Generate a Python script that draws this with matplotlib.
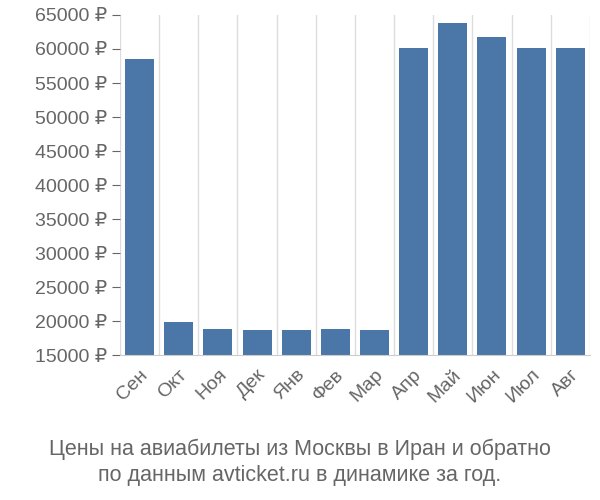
import matplotlib
matplotlib.use("Agg")
import matplotlib.pyplot as plt
import numpy as np

months = ["Сен", "Окт", "Ноя", "Дек", "Янв", "Фев", "Мар", "Апр", "Май", "Июн", "Июл", "Авг"]
prices = [58500, 19850, 18800, 18700, 18700, 18800, 18700, 60150, 63800, 61750, 60150, 60100]
yticks = list(range(15000, 65001, 5000))
ylabels = [f"{v} ₽" for v in yticks]
title = "Цены на авиабилеты из Москвы в Иран и обратно\nпо данным avticket.ru в динамике за год."

plt.rcParams["font.family"] = ["Liberation Sans", "DejaVu Sans"]
fig = plt.figure(figsize=(6, 5), dpi=100)
ax = fig.add_axes([0.2, 0.29, 0.783, 0.68])
x = np.arange(len(months))
ax.bar(x, prices, width=0.74, color="#4a76a8", zorder=2)
ax.set_xlim(-0.5, len(months) - 0.5)
ax.set_ylim(15000, 65000)
ax.set_yticks(yticks)
ax.set_yticklabels(ylabels)
ax.set_xticks(x)
ax.set_xticklabels(months, rotation=45, ha="right", rotation_mode="anchor")
ax.set_xticks(np.arange(-0.5, len(months), 1), minor=True)
ax.grid(False)
ax.grid(True, which="minor", axis="x", color="#dddddd", lw=1, zorder=0)
ax.tick_params(axis="both", which="major", labelsize=14, colors="#666666", length=6)
ax.tick_params(axis="x", which="major", length=0, pad=8)
ax.tick_params(axis="x", which="minor", length=0)
for s in ["top", "right", "left"]:
    ax.spines[s].set_visible(False)
ax.spines["bottom"].set_color("#cccccc")
fig.text(0.5, 0.075, title, ha="center", va="center", fontsize=15.5, color="#666666", linespacing=1.3)
fig.savefig("out.png")
